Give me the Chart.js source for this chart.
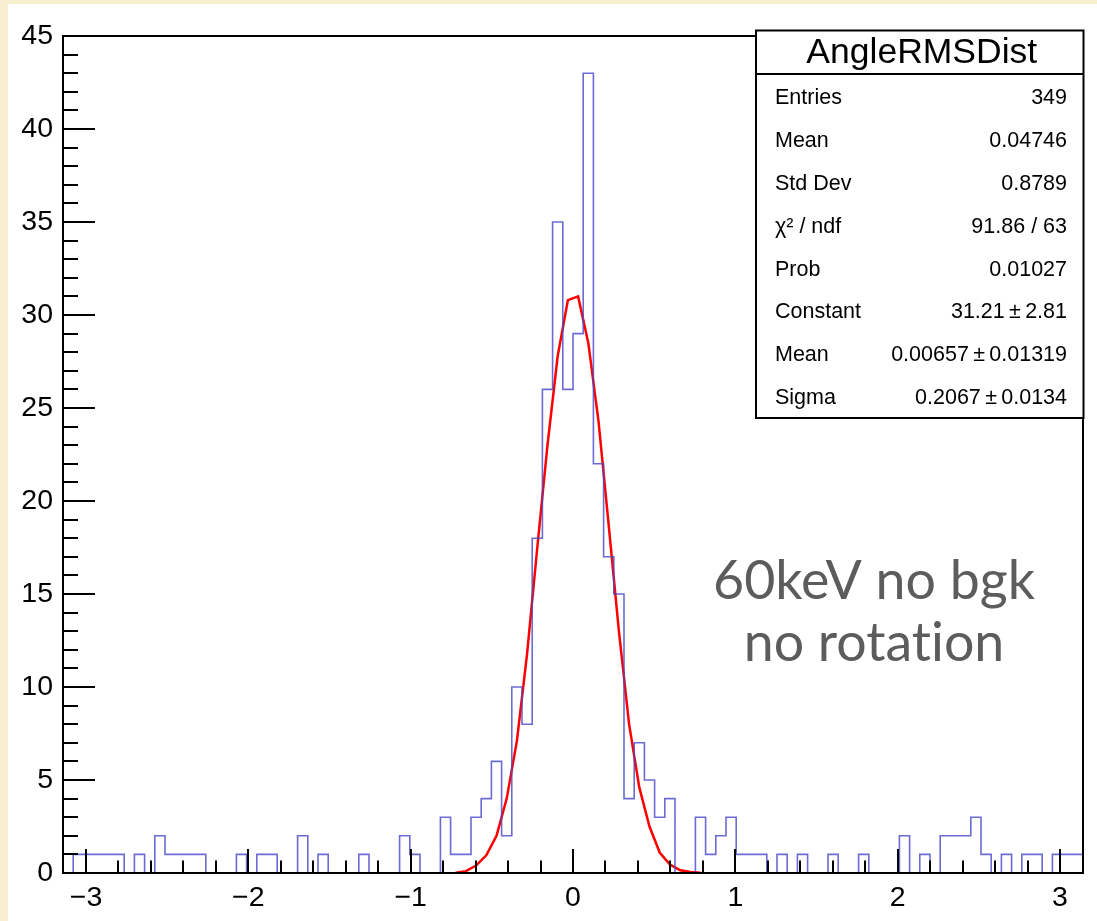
<!DOCTYPE html>
<html>
<head>
<meta charset="utf-8">
<script src="https://cdn.jsdelivr.net/npm/chart.js@4.4.1/dist/chart.umd.min.js"></script>
<style>
html, body { margin: 0; padding: 0; background: #f7edcf; }
#wrap { width: 1097px; height: 921px; }
</style>
</head>
<body>
<div id="wrap"><canvas id="chart" width="1097" height="921"></canvas></div>
<script>
// histogram: 100 bins between -pi and pi
const xMin = -Math.PI;
const xMax = Math.PI;
const binCounts = [
    0, 1, 1, 1, 1, 1, 0, 1, 0, 2,
    1, 1, 1, 1, 0, 0, 0, 1, 0, 1,
    1, 0, 0, 2, 0, 1, 0, 0, 0, 1,
    0, 0, 0, 2, 1, 0, 0, 3, 1, 1,
    3, 4, 6, 2, 10, 8, 18, 26, 35, 26,
    29, 43, 22, 17, 15, 4, 7, 5, 3, 4,
    0, 0, 3, 1, 2, 3, 1, 1, 1, 0,
    1, 0, 1, 0, 0, 1, 0, 0, 1, 0,
    0, 0, 2, 0, 1, 0, 2, 2, 2, 3,
    1, 0, 1, 0, 1, 1, 0, 1, 1, 1
];
// gaus fit, read at the bin centres of bins 38..62
const fitFirstBin = 38;
const fitValues = [0.02, 0.1, 0.4, 0.95, 2.0, 4.0, 7.1, 11.8, 17.5, 23.0, 27.8, 30.8, 31.0,
    28.5, 24.3, 18.7, 13.0, 8.0, 4.6, 2.5, 1.1, 0.45, 0.15, 0.05, 0.01];

const xTickValues = [-3, -2, -1, 0, 1, 2, 3];
const yTickValues = [0, 5, 10, 15, 20, 25, 30, 35, 40, 45];

const statsTitle = 'AngleRMSDist';
const statsLabels = ['Entries', 'Mean', 'Std Dev', 'χ² / ndf', 'Prob', 'Constant', 'Mean', 'Sigma'];
const statsValues = ['349', '0.04746', '0.8789', '91.86 / 63', '0.01027',
    '31.21\u2009±\u20092.81', '0.00657\u2009±\u20090.01319', '0.2067\u2009±\u20090.0134'];
const noteLines = ['60keV no bgk', 'no rotat\u200Cion'];

const binWidth = (xMax - xMin) / binCounts.length;
const histPoints = binCounts.map((c, i) => ({ x: xMin + i * binWidth, y: c }));
histPoints.push({ x: xMax, y: binCounts[binCounts.length - 1] });
const fitPoints = fitValues.map((v, i) => ({ x: xMin + (fitFirstBin + i + 0.5) * binWidth, y: v }));

const FONT = '"Liberation Sans", Arial, sans-serif';

const rootPad = {
    id: 'rootPad',
    beforeDraw(chart) {
        const ctx = chart.ctx;
        ctx.save();
        ctx.fillStyle = '#f7edcf';
        ctx.fillRect(0, 0, chart.width, chart.height);
        ctx.fillStyle = '#ffffff';
        ctx.fillRect(8, 4, chart.width - 8, chart.height - 4);
        ctx.restore();
    },
    afterDatasetsDraw(chart) {
        const ctx = chart.ctx;
        const a = chart.chartArea;
        const xs = chart.scales.x, ys = chart.scales.y;
        ctx.save();
        ctx.strokeStyle = '#000';
        ctx.lineWidth = 2;
        ctx.strokeRect(a.left, a.top, a.right - a.left, a.bottom - a.top);
        ctx.beginPath();
        for (let v = 0; v <= 45; v++) {
            const y = Math.round(ys.getPixelForValue(v));
            const len = v % 5 === 0 ? 32 : 15;
            ctx.moveTo(a.left, y);
            ctx.lineTo(a.left + len, y);
        }
        for (let k = -15; k <= 15; k++) {
            const x = Math.round(xs.getPixelForValue(k / 5));
            const len = k % 5 === 0 ? 24 : 12.5;
            ctx.moveTo(x, a.bottom);
            ctx.lineTo(x, a.bottom - len);
        }
        ctx.stroke();

        // stats box
        const bx = 756, by = 30.5, bw = 327.5, bh = 387.5;
        ctx.fillStyle = '#fff';
        ctx.fillRect(bx, by, bw, bh);
        ctx.strokeRect(bx, by, bw, bh);
        ctx.beginPath();
        ctx.moveTo(bx, 74);
        ctx.lineTo(bx + bw, 74);
        ctx.stroke();
        ctx.fillStyle = '#000';
        ctx.textBaseline = 'middle';
        ctx.textAlign = 'center';
        ctx.font = '35.5px ' + FONT;
        ctx.fillText(statsTitle, bx + bw / 2 + 2, 53);
        ctx.font = '21.5px ' + FONT;
        statsLabels.forEach((lab, i) => {
            const y = 98 + i * 42.9;
            ctx.textAlign = 'left';
            ctx.fillText(lab, 775, y);
            ctx.textAlign = 'right';
            ctx.fillText(statsValues[i], 1067, y);
        });

        // annotation
        ctx.fillStyle = '#5c5c5c';
        ctx.textAlign = 'center';
        ctx.textBaseline = 'alphabetic';
        ctx.font = '48px Lato, sans-serif';
        const w = ctx.measureText(noteLines[0]).width;
        const size = 48 * 322 / w;
        ctx.font = size.toFixed(1) + 'px Lato, sans-serif';
        ctx.fillText(noteLines[0], 874, 599);
        ctx.fillText(noteLines[1], 874, 661);
        ctx.restore();
    }
};

const ctx = document.getElementById('chart').getContext('2d');
const chart = new Chart(ctx, {
    type: 'line',
    data: {
        datasets: [{
            label: 'AngleRMSDist',
            data: histPoints,
            stepped: 'before',
            borderColor: 'rgba(70, 70, 200, 0.8)',
            borderWidth: 1.6,
            pointRadius: 0,
            fill: false
        }, {
            label: 'gaus',
            data: fitPoints,
            borderColor: '#ff0000',
            borderWidth: 2.5,
            pointRadius: 0,
            tension: 0,
            fill: false
        }]
    },
    options: {
        responsive: false,
        animation: false,
        layout: { padding: { left: 0, right: 14, top: 36, bottom: 0 } },
        plugins: { legend: { display: false }, tooltip: { enabled: false } },
        scales: {
            x: {
                type: 'linear',
                min: xMin,
                max: xMax,
                afterBuildTicks: s => { s.ticks = xTickValues.map(v => ({ value: v })); },
                afterFit: s => { s.height = 48; },
                grid: { display: false, drawTicks: false },
                border: { display: false },
                ticks: {
                    padding: 8,
                    color: '#000',
                    font: { family: FONT, size: 28.5 },
                    callback: v => v < 0 ? '\u2212' + Math.abs(v) : String(v)
                }
            },
            y: {
                type: 'linear',
                min: 0,
                max: 45,
                afterBuildTicks: s => { s.ticks = yTickValues.map(v => ({ value: v })); },
                afterFit: s => { s.width = 63; },
                grid: { display: false, drawTicks: false },
                border: { display: false },
                ticks: {
                    padding: 10,
                    color: '#000',
                    font: { family: FONT, size: 28.5 }
                }
            }
        }
    },
    plugins: [rootPad]
});
</script>
</body>
</html>
